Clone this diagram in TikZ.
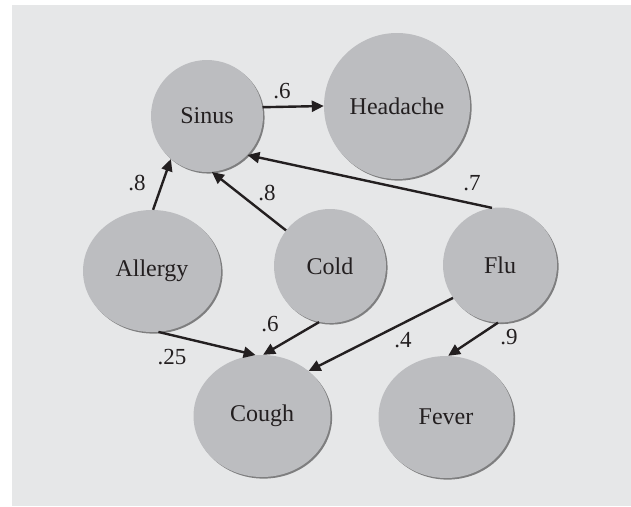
\documentclass[tikz,border=0pt]{standalone}
\usepackage{fontspec}
\setmainfont{Liberation Serif}
\usepackage{xcolor}
\usetikzlibrary{shapes.geometric, arrows.meta, shadows}
\definecolor{bgray}{HTML}{E6E7E8}
\definecolor{ngray}{HTML}{BCBDC0}
\definecolor{ink}{HTML}{231F20}
\tikzset{
  cause/.style={ellipse, fill=ngray, text=ink, inner sep=0pt,
    font=\fontsize{24}{28}\selectfont,
    drop shadow={shadow xshift=1.6pt, shadow yshift=-1.6pt, fill=black, opacity=0.45}},
  link/.style={-{Triangle[length=12pt,width=11pt]}, line width=2.4pt, ink},
  prob/.style={text=ink, font=\fontsize{23}{26}\selectfont, inner sep=0pt}
}

\begin{document}
\begin{tikzpicture}[x=1pt, y=-1pt]
\useasboundingbox (0,0) rectangle (631,506);
\fill[bgray] (12,5) rectangle (631,506);
% nodes
\node[cause, minimum width=112pt, minimum height=112pt] (sinus) at (207,116) {Sinus};
\node[cause, minimum width=146pt, minimum height=146pt] (headache) at (397,106) {Headache};
\node[cause, minimum width=138pt, minimum height=122pt] (allergy) at (152,271) {Allergy};
\node[cause, minimum width=112pt, minimum height=114pt] (cold) at (330,266) {Cold};
\node[cause, minimum width=114pt, minimum height=115pt] (flu) at (500,265) {Flu};
\node[cause, minimum width=137pt, minimum height=122pt] (cough) at (262,416) {Cough};
\node[cause, minimum width=135pt, minimum height=122pt] (fever) at (446,417) {Fever};
% links
\draw[link] (sinus.9) -- (headache.180);
\draw[link] (allergy.89) -- (sinus.230);
\draw[link] (cold.141) -- (sinus.275);
\draw[link] (flu.98) -- (sinus.316);
\draw[link] (allergy.276) -- (cough.96);
\draw[link] (cold.259) -- (cough.89);
\draw[link] (flu.215) -- (cough.44);
\draw[link] (flu.268) -- (fever.88);
% probabilities
\node[prob] (p-sh) at (282,91) {.6};
\node[prob] (p-as) at (137,183) {.8};
\node[prob] (p-cs) at (267,193) {.8};
\node[prob] (p-fs) at (472,183) {.7};
\node[prob] (p-ac) at (172,357) {.25};
\node[prob] (p-cc) at (270,324) {.6};
\node[prob] (p-fc) at (403,340) {.4};
\node[prob] (p-ff) at (509,337) {.9};
\end{tikzpicture}
\end{document}
